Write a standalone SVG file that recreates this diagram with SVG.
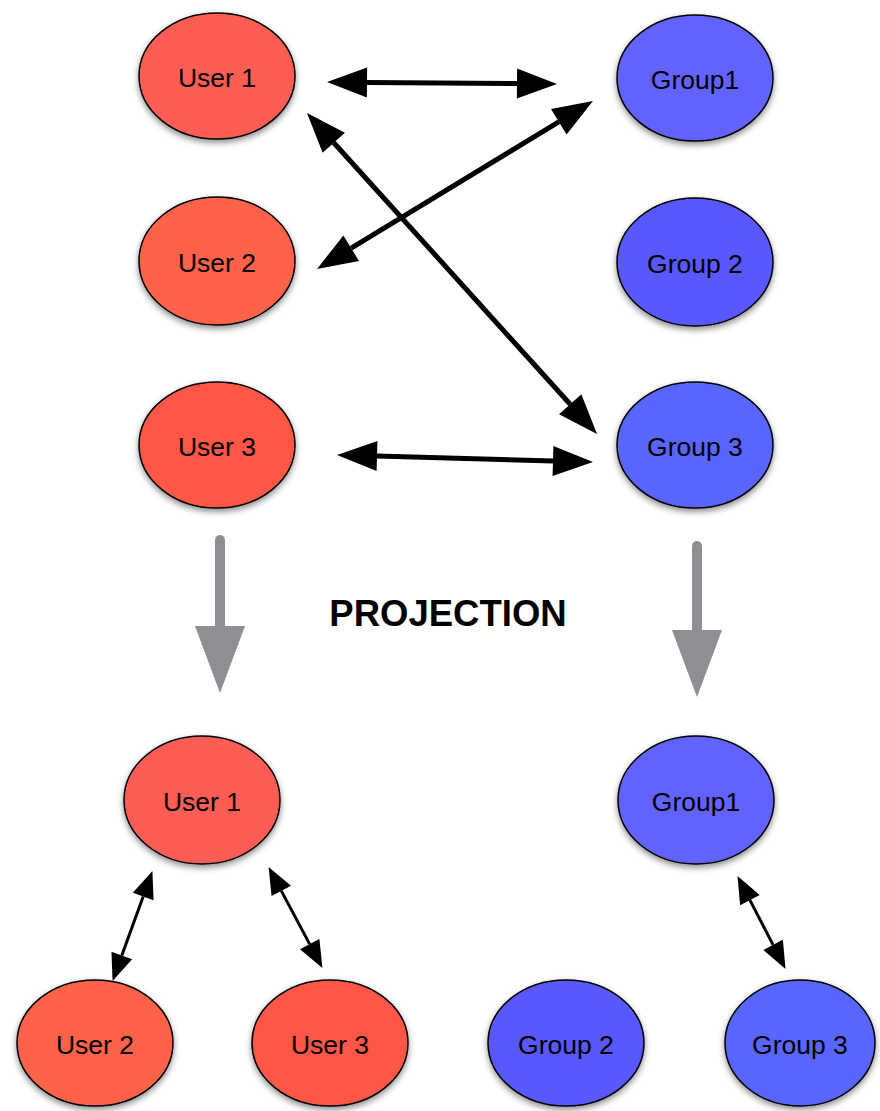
<svg xmlns="http://www.w3.org/2000/svg" width="880" height="1111" viewBox="0 0 880 1111">
  <style>
    .node ellipse { stroke: #000; stroke-width: 1.5; filter: url(#shadow); }
    .node text { font-family: "Liberation Sans", Arial, sans-serif; font-size: 26.5px; fill: #000; text-anchor: middle; }
    .big { stroke: #000; stroke-width: 5; fill: none; marker-start: url(#headBig); marker-end: url(#headBig); }
    .small { stroke: #000; stroke-width: 3; fill: none; marker-start: url(#headSmall); marker-end: url(#headSmall); }
    .proj { stroke: #8f8e93; stroke-width: 10; stroke-linecap: round; }
    .projHead { fill: #8f8e93; }
    .title { font-family: "Liberation Sans", Arial, sans-serif; font-weight: bold; font-size: 36.5px; fill: #000; text-anchor: middle; }
  </style>
  <defs>
    <filter id="shadow" x="-20%" y="-20%" width="140%" height="150%">
      <feDropShadow dx="0" dy="3" stdDeviation="3" flood-color="#000" flood-opacity="0.45"/>
    </filter>
    <marker id="headBig" markerUnits="userSpaceOnUse" viewBox="0 -15 40 30" refX="0" refY="0" markerWidth="40" markerHeight="30" orient="auto-start-reverse" overflow="visible">
      <path d="M0,-15 L40,0 L0,15 Z" fill="#000"/>
    </marker>
    <marker id="headSmall" markerUnits="userSpaceOnUse" viewBox="0 -11 27 22" refX="0" refY="0" markerWidth="27" markerHeight="22" orient="auto-start-reverse" overflow="visible">
      <path d="M0,-11 L27,0 L0,11 Z" fill="#000"/>
    </marker>
  </defs>

  <rect width="880" height="1111" fill="#fff"/>

  <!-- connectors -->
  <g id="connectors">
    <line class="big" x1="367" y1="82.4" x2="517" y2="83.6"/>
    <line class="big" x1="351.2" y1="248.2" x2="558.8" y2="121.8"/>
    <line class="big" x1="333.8" y1="142.7" x2="570.2" y2="404.3"/>
    <line class="big" x1="377" y1="456.1" x2="553" y2="460.9"/>

    <line class="small" x1="143.2" y1="896.5" x2="121.8" y2="955.5"/>
    <line class="small" x1="281.3" y1="890.9" x2="309.7" y2="944.1"/>
    <line class="small" x1="749.9" y1="900.1" x2="773.1" y2="944.9"/>

    <line class="proj" x1="220" y1="540" x2="220" y2="628"/>
    <polygon class="projHead" points="195,626 245,626 220,693"/>
    <line class="proj" x1="697" y1="546" x2="697" y2="632"/>
    <polygon class="projHead" points="672,630 722,630 697,697"/>
  </g>

  <text class="title" x="448" y="626">PROJECTION</text>

  <!-- upper graph -->
  <g id="user1-top" class="node"><ellipse cx="217" cy="76" rx="78" ry="63" fill="#fe5d55"/><text x="217" y="87">User 1</text></g>
  <g id="user2-top" class="node"><ellipse cx="217" cy="261" rx="78" ry="64" fill="#fe6249"/><text x="217" y="272">User 2</text></g>
  <g id="user3-top" class="node"><ellipse cx="217" cy="445" rx="78" ry="63" fill="#fe5646"/><text x="217" y="456">User 3</text></g>
  <g id="group1-top" class="node"><ellipse cx="695" cy="78" rx="78" ry="63" fill="#6262fe"/><text x="695" y="89">Group1</text></g>
  <g id="group2-top" class="node"><ellipse cx="695" cy="262" rx="78" ry="64" fill="#5858fe"/><text x="695" y="273">Group 2</text></g>
  <g id="group3-top" class="node"><ellipse cx="695" cy="445" rx="78" ry="63" fill="#5866fe"/><text x="695" y="456">Group 3</text></g>

  <!-- projected users -->
  <g id="user1-proj" class="node"><ellipse cx="202" cy="800" rx="78" ry="64" fill="#fe5d55"/><text x="202" y="811">User 1</text></g>
  <g id="user2-proj" class="node"><ellipse cx="95" cy="1043" rx="78" ry="63" fill="#fe6249"/><text x="95" y="1054">User 2</text></g>
  <g id="user3-proj" class="node"><ellipse cx="330" cy="1043" rx="78" ry="63" fill="#fe5646"/><text x="330" y="1054">User 3</text></g>

  <!-- projected groups -->
  <g id="group1-proj" class="node"><ellipse cx="696" cy="800" rx="78" ry="64" fill="#6262fe"/><text x="696" y="811">Group1</text></g>
  <g id="group2-proj" class="node"><ellipse cx="566" cy="1043" rx="78" ry="63" fill="#5858fe"/><text x="566" y="1054">Group 2</text></g>
  <g id="group3-proj" class="node"><ellipse cx="800" cy="1043" rx="75" ry="63" fill="#5866fe"/><text x="800" y="1054">Group 3</text></g>
</svg>
